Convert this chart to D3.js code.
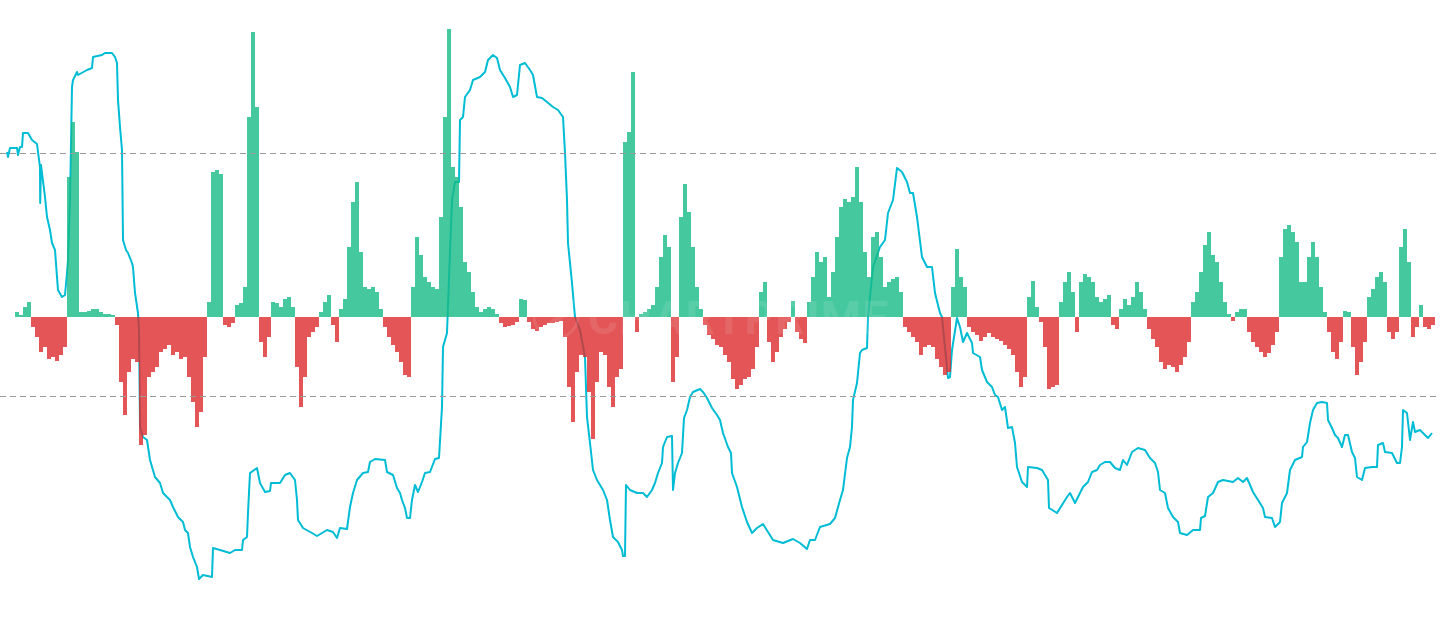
<!DOCTYPE html>
<html>
<head>
<meta charset="utf-8">
<script src="https://cdn.jsdelivr.net/npm/d3@7"></script>
<style>
html,body{margin:0;padding:0;background:#fff;}
svg{display:block;}
</style>
</head>
<body>
<svg id="chart" width="1440" height="633"></svg>
<script>
// ---- DATA ----
// Histogram (one bar per period)
const histValues = [
2.5,1,5,7.5,-5,-10,-17.5,-15,-21,-20,
-22,-19,-15,70,97.5,82.5,2.5,2.5,3,4,
4,2.5,1.5,1.5,1,-4,-32.5,-49,-27.5,-21,
-22.5,-64,-59,-30,-27.5,-25,-17.5,-16,-14,-19,
-17.5,-21,-20,-30,-42.5,-55,-47.5,-20,7.5,72.5,
73.5,71.5,-4,-5,-3,6,7,15,100,142.5,
105,-12.5,-20,-10,7.5,7,5,9,10,5,
-25,-45,-30,-10,-7.5,-5,2.5,7.5,11,-4,
-12.5,4,9,35,57.5,67.5,32.5,15,14,15,
12.5,4,-5,-10,-14,-17.5,-22.5,-29,-30,15,
40,31,20,17.5,15,14,50,100,144,75,
70,55,27.5,22.5,12.5,5,2.5,4,5,4,
1.5,-3,-5,-4.5,-4,-2.5,9,8.5,-2.5,-6,
-7,-5,-4,-3,-3,-2.5,-2,-10,-35,-52.5,
-27.5,-19,-20,-37.5,-61,-32.5,-17.5,-19,-35,-45,
-30,-26,87.5,92.5,122.5,-7.5,1.5,2.5,4,6,
15,30,41,35,-32.5,-20,50,66.5,52.5,35,
15,4,-4,-9,-11,-14,-15,-19,-22.5,-31,
-36,-34,-31,-30,-26,-15,12.5,17.5,-12.5,-22.5,
-17.5,-10,-6,-2.5,8,-7.5,-11,-13,7.5,20,
32.5,27.5,30,10,22.5,40,55,59,57.5,60,
75,57.5,32.5,20,40,42.5,30,15,17.5,19,
20,12.5,-5,-7.5,-10,-12.5,-19,-15,-14,-15,
-21,-25,-29,-27.5,15,34,20,15,-5,-7.5,
-9,-12,-10,-8,-10,-11,-12,-14,-16,-19,
-27.5,-35,-30,10,18,5,-2.5,-15,-36,-35,
-34,7.5,17.5,22.5,12.5,-7.5,17.5,21.5,20,17.5,
10,7.5,9,11,-4,-6,4,9,6,10,
17.5,12.5,4,-6,-11,-15,-22.5,-26,-24,-25,
-27.5,-24,-20,-12.5,7.5,12.5,22.5,36,42.5,31,
27.5,17.5,7.5,1.5,-2,2.5,4,4,-7.5,-12.5,
-15,-17.5,-20,-18,-14,-7.5,30,44,46,42.5,
37.5,17.5,17.5,30,37.5,30,15,2.5,-7.5,-17.5,
-21,-12.5,3,2.5,-15,-29,-22.5,-12.5,10,14,
20,22.5,17.5,-7.5,-11,-7.5,35,44,27.5,-10,
-5,6,-5,-6,-4
];

// Oscillator line: period (in bar units) and value
const lineT = [
-2.5,-2.25,-1.75,0,0.25,0.75,1.25,1.5,2.75,3.75,5,5.25,5.75,5.8,6,7,7.5,8.25,8.75,9.5,
10,10.25,11.25,12,12.5,12.75,13.25,13.75,14,15,15.25,17.5,18.75,19,21.25,22,23.75,24.5,25,25.25,
25.75,26.25,26.5,27.25,27.75,28.75,29,29.5,30.25,30.5,30.75,31.5,32.5,33.25,34.5,35.75,36.5,38.25,39,40.25,
41.5,42,42.75,43.25,44,45,45.5,46.5,48.75,49,50.75,53.25,54.5,56.25,56.5,57.5,57.75,58.25,60,60.75,
62,63.25,63.5,65.75,67,68.25,69.5,70,70.25,71.5,73.75,75,77.5,79,80,80.75,82.5,83.25,84,85,
86.5,87.75,88.25,89.5,92,92.5,94,95,95.75,96.25,97,97.5,98.25,98.75,99.5,100.25,101.25,102,103.25,104.5,
105.5,106.25,106.5,107.5,107.75,108.75,109.5,110.5,110.75,111.5,112,113.25,114,115.75,117,117.75,119,120,120.75,122,
123.25,124,125,125.75,127,128.25,129,130,131.25,132.5,134,135.25,136.5,137,137.5,137.75,138.75,139.5,140.75,142,
142.5,143.25,144,145,146.5,147.5,148.25,149,150.25,151.25,151.5,152,152.25,153.25,155,156.5,157.5,158.75,159.5,160.25,
161.25,161.5,162.5,163.75,164,164.5,165.25,166.25,166.75,167.5,168.25,169,170.75,171.5,172.5,173.75,175,175.75,176.5,177.75,
178.5,178.75,180,181.25,182.5,183.75,185,186.5,187.75,189,191.5,194,195.75,197.5,198.25,199.5,200.75,203.25,204.5,205.75,
206.5,207.5,208.25,208.75,209,210,210.75,211.25,212.5,212.75,214,215.75,217,217.75,219,220,221.25,222.5,223.25,224,
225,226.25,227.5,228.75,229.5,230.75,231.25,232.75,233.25,233.75,235,235.75,236.5,237.5,238.75,239,240.75,241.25,242.5,243.75,
244.5,245.25,246.25,247,247.75,248.75,249.5,250,251.25,252.5,252.75,255,256.25,257.75,258,260,261.25,262.5,263.25,264.5,
265.25,266.5,267.75,268.75,270,270.75,272,273.25,274.5,275.75,276.5,277.5,278.75,280.25,282,283.25,284.5,285.25,285.75,287,
287.75,289,290.25,290.75,292.5,294,295.75,296,297,297.75,299,300.25,301.5,304,305.25,306.5,307.5,309,310.25,311.5,
312,313.75,314.5,315.75,316.25,317.5,318.25,319.5,321.25,321.5,322.5,323.25,324,325,326.25,327.5,327.75,328.75,329.5,330.25,
331.25,332,332.75,333.75,334.5,335,336.25,337,338.75,340,340.25,341.5,342,343.75,345,345.75,346.25,346.5,347.5,348.25,
349,349.5,350.75,351.5,352.75,353.75
];
const lineV = [
89.6,88.6,90.4,90.4,89,90.6,90.6,93.4,93.4,92,91.2,89.6,86.6,79.4,87,80.6,76.6,74,71.4,70,
64.6,62,60.6,61,65.4,68,80,102.6,104,105.6,105,106,106.4,108.6,109,109.4,109.4,108.6,107.4,100,
94.6,90,72,70,69.4,67.4,66.6,61.4,57.4,54,34.6,32.6,32,28,24.6,23.4,21.4,20,18.6,16.6,
15.6,14,13.4,10.6,8.6,6.6,4.2,5,4.6,10.4,10,9.4,10,10,12,12.6,17.4,25.4,26.4,23.4,
21.6,21.8,23.4,23.4,25,25.4,24,20,16,14.4,13.4,12.8,14,13.6,12.4,14.4,14.2,18.6,21.4,24,
25.4,25.6,27.6,28.2,28,25.6,25,22.4,21.4,20,18.4,16.4,16.4,20,23,21.6,23.6,25.4,25.6,28.2,
28.4,38.6,50.6,53.4,59,80,83.6,83.6,96,96.6,100.6,102,104,104.6,105.6,108,109,108.4,106,104.4,
102.6,100.6,101,107,107.4,106,105,100.6,100.4,99.6,98.6,98,96.6,89.4,80,71.4,63.4,56.6,54,48.6,
36.6,31.4,26,24,22,20,16,12.6,11.6,10,8.8,8.8,23,22,21.4,21.4,20.6,22,23.4,25.4,
27.4,30.6,32.6,32.8,22,25.4,27.4,29.4,36.4,38,40.6,41.6,42.2,41.6,40.4,38.4,37,36,33.4,30.6,
29.4,25.4,22.6,18.6,15.6,13.4,14.4,15.2,13.6,12,11.4,12.2,11.4,10.2,12,12,14.6,15.2,16.4,20,
22,28.4,30.6,34.6,40,43.4,49.4,50,50.4,56.6,66.6,70.6,72,77.4,80,86.4,85.6,83.6,81.4,81.4,
76.6,68.6,66.6,66.6,61.4,57.4,56.6,44.4,44.6,50,56.4,54.6,51.6,53.4,51.4,49.4,48.6,46,43.6,42.6,
41,40.6,38,38.6,34.4,34.6,31.4,26.6,23.6,22.6,26.6,26.4,26,24,18.4,17.4,19,20.6,21.4,19.4,
20.6,22.6,23.6,25.6,26,27,27.6,27.6,26.4,26,28,27,29.6,30.4,30,28.4,27.4,25.6,22,21.4,
18.4,16.6,15.6,13.4,13,14,14,16.4,16.8,20.6,21.4,23.6,24,23.6,24.4,23.6,24.4,21.6,20,18.4,
16.6,16.4,14.6,15.6,19.4,21.4,26,28,28.6,30.6,31.6,35.4,38,39.4,39.6,39.4,36,34.4,33,32.4,
30.6,33,33,29.6,28.4,24.6,24,26.4,26.6,26.6,31,31.4,29.6,29.4,27.4,27.4,30.6,38,37.4,32,
35.6,33.6,34,33.4,32.4,33.4
];

// Reference levels of the histogram
const levels = [82, -39.5];

// ---- CHART ----
const W = 1440, H = 633;
const svg = d3.select("#chart");

const xBand = d3.scaleBand()
  .domain(d3.range(histValues.length))
  .range([15, 1435])
  .padding(0);
const xLin = d3.scaleLinear()
  .domain([0, histValues.length - 1])
  .range([xBand(0) + xBand.bandwidth() / 2, xBand(histValues.length - 1) + xBand.bandwidth() / 2]);

const yHist = d3.scaleLinear().domain([-158, 158.5]).range([H, 0]);
const yLine = d3.scaleLinear().domain([0, 120]).range([600, 0]);

// oscillator line (drawn below the semi-transparent histogram)
const linePts = lineT.map((t, i) => ({ t, v: lineV[i] }));
svg.append("path")
  .datum(linePts)
  .attr("fill", "none")
  .attr("stroke", "#00BCD4")
  .attr("stroke-width", 2)
  .attr("stroke-linejoin", "round")
  .attr("d", d3.line().x(d => xLin(d.t)).y(d => yLine(d.v)));

// histogram bars (one path per colour so there are no seams between bars)
const barPath = (pred) => {
  const p = d3.path();
  histValues.forEach((d, i) => {
    if (!pred(d)) return;
    const x0 = xBand(i), w = xBand.bandwidth();
    const yTop = yHist(Math.max(0, d)), yBot = yHist(Math.min(0, d));
    p.rect(x0, yTop, w, yBot - yTop);
  });
  return p.toString();
};
svg.append("path")
  .attr("d", barPath(d => d >= 0))
  .attr("fill", "#16BA84")
  .attr("fill-opacity", 0.8)
  .attr("shape-rendering", "crispEdges");
svg.append("path")
  .attr("d", barPath(d => d < 0))
  .attr("fill", "#DC2A2C")
  .attr("fill-opacity", 0.8)
  .attr("shape-rendering", "crispEdges");

// dashed levels
svg.append("g")
  .selectAll("line")
  .data(levels)
  .join("line")
  .attr("x1", 0).attr("x2", W)
  .attr("y1", d => Math.round(yHist(d)) + 0.5)
  .attr("y2", d => Math.round(yHist(d)) + 0.5)
  .attr("stroke", "#9a9a9a")
  .attr("stroke-width", 1)
  .attr("stroke-dasharray", "6,4");

// faint watermark
const wm = svg.append("g").attr("opacity", 0.1);
wm.append("circle").attr("cx", 556).attr("cy", 316).attr("r", 22)
  .attr("fill", "none").attr("stroke", "#ffffff").attr("stroke-width", 3);
wm.append("path").attr("d", "M540,330 L584,292 L560,322 Z").attr("fill", "#ffffff");
wm.append("text")
  .attr("x", 588).attr("y", 334)
  .attr("font-family", "Roboto, 'Noto Sans', sans-serif")
  .attr("font-weight", 700)
  .attr("font-size", 46)
  .attr("fill", "#ffffff")
  .attr("textLength", 300)
  .text("CHARTPRIME");
</script>
</body>
</html>
